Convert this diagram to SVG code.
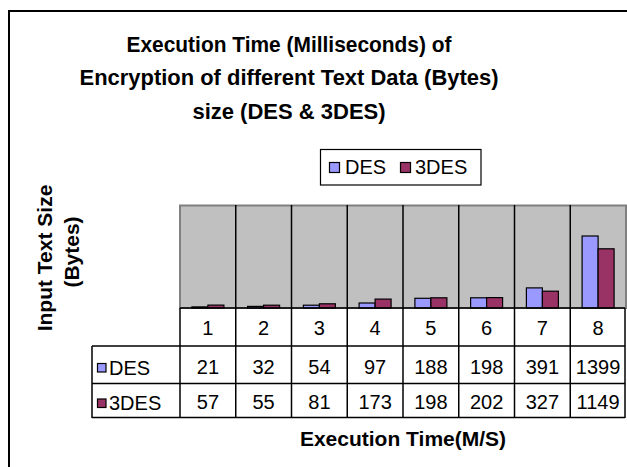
<svg xmlns="http://www.w3.org/2000/svg" width="627" height="467" viewBox="0 0 627 467">
<style>
.t{font-family:"Liberation Sans",Arial,sans-serif;fill:#000}
.title{font-size:22px;font-weight:bold;text-anchor:middle}
.axt{font-size:21px;font-weight:bold;text-anchor:middle}
.num{font-size:20px;text-anchor:middle}
.lg{font-size:20px}
.des{fill:#9999FF;stroke:#000;stroke-width:1.2}
.tdes{fill:#993366;stroke:#000;stroke-width:1.2}
.grid{stroke:#000;stroke-width:1.5}
</style>
<rect x="0" y="0" width="627" height="467" fill="#fff"/>
<rect id="frame" x="9" y="11" width="640" height="480" fill="none" stroke="#000" stroke-width="2"/>
<g id="title">
<text class="t title" x="289" y="51.5" textLength="325" lengthAdjust="spacingAndGlyphs">Execution Time (Milliseconds) of</text>
<text class="t title" x="289" y="85" textLength="419" lengthAdjust="spacingAndGlyphs">Encryption of different Text Data (Bytes)</text>
<text class="t title" x="289" y="118.5">size (DES &amp; 3DES)</text>
</g>
<g id="legend">
<rect x="320.5" y="149.5" width="160.5" height="35.5" fill="#fff" stroke="#000" stroke-width="1.2"/>
<rect class="des" x="329.5" y="162.5" width="10" height="10"/>
<text class="t lg" x="345" y="174">DES</text>
<rect class="tdes" x="400.5" y="162.5" width="10" height="10"/>
<text class="t lg" x="415" y="174">3DES</text>
</g>
<g id="plot">
<rect x="180" y="205.5" width="446" height="102.5" fill="#C0C0C0" stroke="#808080" stroke-width="2"/>
<g class="grid">
<line x1="235.75" y1="205" x2="235.75" y2="418"/>
<line x1="291.5" y1="205" x2="291.5" y2="418"/>
<line x1="347.25" y1="205" x2="347.25" y2="418"/>
<line x1="403" y1="205" x2="403" y2="418"/>
<line x1="458.75" y1="205" x2="458.75" y2="418"/>
<line x1="514.5" y1="205" x2="514.5" y2="418"/>
<line x1="570.25" y1="205" x2="570.25" y2="418"/>
</g>
</g>
<g id="bars">
<rect class="des" x="191.9" y="306.9" width="16" height="1.1"/>
<rect class="tdes" x="207.9" y="305.1" width="16" height="2.9"/>
<rect class="des" x="247.6" y="306.4" width="16" height="1.6"/>
<rect class="tdes" x="263.6" y="305.2" width="16" height="2.8"/>
<rect class="des" x="303.4" y="305.2" width="16" height="2.8"/>
<rect class="tdes" x="319.4" y="303.8" width="16" height="4.2"/>
<rect class="des" x="359.1" y="303" width="16" height="5"/>
<rect class="tdes" x="375.1" y="299.1" width="16" height="8.9"/>
<rect class="des" x="414.9" y="298.3" width="16" height="9.7"/>
<rect class="tdes" x="430.9" y="297.8" width="16" height="10.2"/>
<rect class="des" x="470.6" y="297.8" width="16" height="10.2"/>
<rect class="tdes" x="486.6" y="297.6" width="16" height="10.4"/>
<rect class="des" x="526.4" y="287.9" width="16" height="20.1"/>
<rect class="tdes" x="542.4" y="291.2" width="16" height="16.8"/>
<rect class="des" x="582.1" y="236" width="16" height="72"/>
<rect class="tdes" x="598.1" y="248.8" width="16" height="59.2"/>
</g>
<g id="table">
<g class="grid">
<line x1="180" y1="308" x2="625" y2="308"/>
<line x1="92" y1="346" x2="625" y2="346"/>
<line x1="92" y1="383.5" x2="625" y2="383.5"/>
<line x1="92" y1="417.5" x2="625" y2="417.5"/>
<line x1="92" y1="346" x2="92" y2="418"/>
<line x1="180" y1="308" x2="180" y2="418"/>
<line x1="625" y1="308" x2="625" y2="418"/>
</g>
<rect class="des" x="97.5" y="363.5" width="8.5" height="8.5"/>
<text class="t lg" x="109" y="375">DES</text>
<rect class="tdes" x="97.5" y="399" width="8.5" height="8.5"/>
<text class="t lg" x="109" y="410">3DES</text>
<g class="t num">
<text x="207.9" y="335">1</text><text x="263.6" y="335">2</text><text x="319.4" y="335">3</text><text x="375.1" y="335">4</text><text x="430.9" y="335">5</text><text x="486.6" y="335">6</text><text x="542.4" y="335">7</text><text x="598.1" y="335">8</text>
<text x="207.9" y="374">21</text><text x="263.6" y="374">32</text><text x="319.4" y="374">54</text><text x="375.1" y="374">97</text><text x="430.9" y="374">188</text><text x="486.6" y="374">198</text><text x="542.4" y="374">391</text><text x="598.1" y="374">1399</text>
<text x="207.9" y="409">57</text><text x="263.6" y="409">55</text><text x="319.4" y="409">81</text><text x="375.1" y="409">173</text><text x="430.9" y="409">198</text><text x="486.6" y="409">202</text><text x="542.4" y="409">327</text><text x="598.1" y="409">1149</text>
</g>
</g>
<g id="axis-titles">
<text class="t axt" transform="translate(52,258) rotate(-90)">Input Text Size</text>
<text class="t axt" transform="translate(79,252) rotate(-90)">(Bytes)</text>
<text class="t axt" x="403" y="445.5">Execution Time(M/S)</text>
</g>
</svg>
